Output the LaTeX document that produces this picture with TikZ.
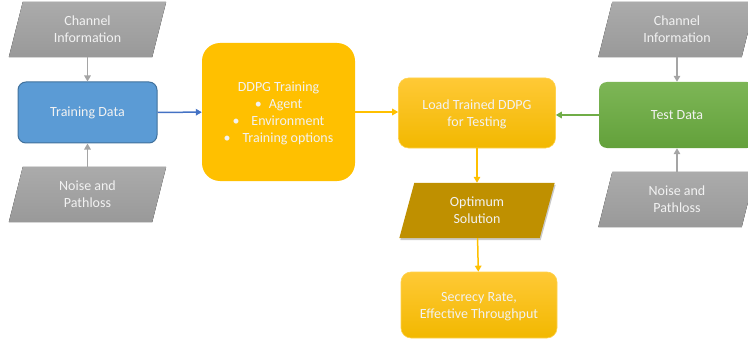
\documentclass[tikz,border=0pt]{standalone}
\usepackage{fontspec}
\setmainfont{Carlito}
\usetikzlibrary{arrows.meta,shadows,calc,backgrounds}

\definecolor{txt}{HTML}{F2F2F2}
\definecolor{grayTop}{HTML}{ABABAB}
\definecolor{grayBot}{HTML}{999999}
\definecolor{blueFill}{HTML}{5B9BD5}
\definecolor{blueLine}{HTML}{41719C}
\definecolor{blueArrow}{HTML}{4472C4}
\definecolor{greenTop}{HTML}{7DB656}
\definecolor{greenBot}{HTML}{63A13B}
\definecolor{greenArrow}{HTML}{70AD47}
\definecolor{gold}{HTML}{FFC000}
\definecolor{goldTop}{HTML}{FFC936}
\definecolor{goldBot}{HTML}{F2B800}
\definecolor{goldLine}{HTML}{FFD24D}
\definecolor{darkGold}{HTML}{BF9000}
\definecolor{grayArrow}{HTML}{A5A5A5}

\tikzset{
  lbl/.style={text=txt, align=center, inner sep=0pt,
    font=\fontsize{14}{17}\selectfont},
  % labels of several lines sit a little lower in their boxes
  multiline/.style={lbl, text depth=-1pt},
  slantframe/.style={multiline, minimum width=157pt, minimum height=55pt},
  databox/.style={lbl, rounded corners=8pt, minimum height=61pt},
  goldbox/.style={multiline, rounded corners=10pt, top color=goldTop,
    bottom color=goldBot, draw=goldLine, line width=0.6pt},
  conn/.style={line width=1.5pt, -{Triangle[length=6pt,width=6.5pt]}},
}

\begin{document}
\begin{tikzpicture}[x=1pt, y=-1pt]
\useasboundingbox (0,0) rectangle (748,345);

% training side
\node[slantframe] (ciL) at (87.5,29.5) {Channel\\Information};
\node[databox, fill=blueFill, draw=blueLine, line width=1pt,
      minimum width=139pt] (train) at (87.5,112.5) {Training Data};
\node[slantframe] (npL) at (87.5,194.5) {Noise and\\Pathloss};

% DDPG training block
\node[multiline, fill=gold, rounded corners=18pt, minimum width=153pt,
      minimum height=138pt] (ddpg) at (278.5,112)
  {DDPG Training\\
   \textbullet\hspace{0.5em}Agent\\
   \textbullet\hspace{0.85em}Environment\\
   \textbullet\hspace{0.85em}Training options};

% testing chain
\node[goldbox, minimum width=157pt, minimum height=70pt] (load)
  at (477,113) {Load Trained DDPG\\for Testing};
\node[slantframe, minimum width=155pt] (opt) at (477,210.5)
  {Optimum\\Solution};
\node[goldbox, minimum width=156pt, minimum height=66pt] (sec)
  at (479,305) {Secrecy Rate,\\Effective Throughput};

% test side
\node[slantframe] (ciR) at (677,29.5) {Channel\\Information};
\node[databox, top color=greenTop, bottom color=greenBot,
      minimum width=156pt, minimum height=66pt] (test) at (677,115)
  {Test Data};
\node[slantframe] (npR) at (677,199.5) {Noise and\\Pathloss};

% parallelogram bodies behind their labels
\begin{pgfonlayer}{background}
  \foreach \n in {ciL,npL,ciR,npR}
    \fill[top color=grayTop, bottom color=grayBot]
      ($(\n.north west)+(14,0)$) -- (\n.north east)
      -- ($(\n.south east)+(-14,0)$) -- (\n.south west) -- cycle;
  \fill[darkGold, drop shadow={shadow xshift=1pt, shadow yshift=-2pt,
        opacity=0.35, fill=black!60}]
    ($(opt.north west)+(15,0)$) -- (opt.north east)
    -- ($(opt.south east)+(-15,0)$) -- (opt.south west) -- cycle;
\end{pgfonlayer}

% connectors
\draw[conn, grayArrow] (ciL) -- (train);
\draw[conn, grayArrow] (npL) -- (train);
\draw[conn, blueArrow] (train) -- (ddpg);
\draw[conn, gold] (ddpg.east) -- (load.west |- ddpg.east);
\draw[conn, greenArrow] (test.west) -- (load.east |- test.west);
\draw[conn, grayArrow] (ciR) -- (test);
\draw[conn, grayArrow] (npR) -- (test);
\draw[conn, gold] (load) -- (opt);
\draw[conn, gold] (opt) -- (sec);
\end{tikzpicture}
\end{document}
